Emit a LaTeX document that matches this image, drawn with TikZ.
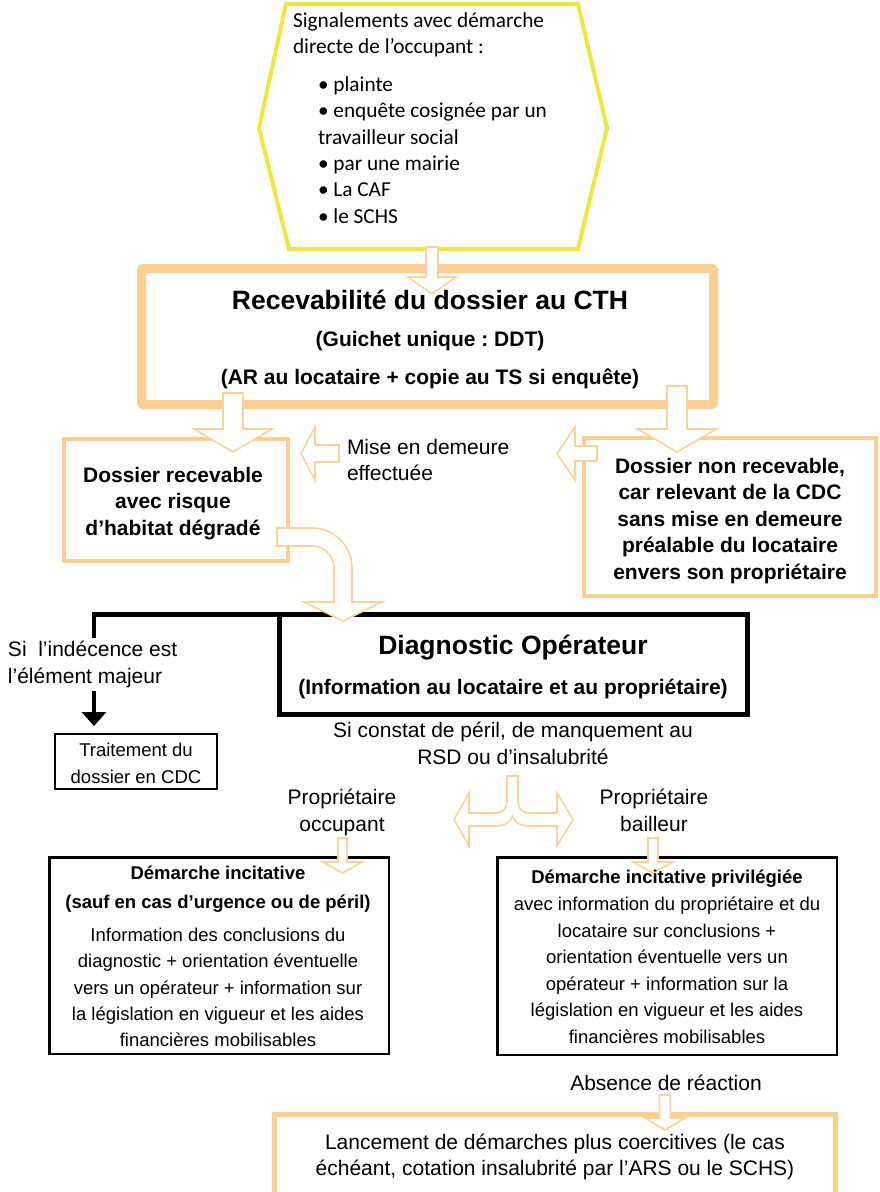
\documentclass[tikz,border=0pt]{standalone}
\usepackage{fontspec}
\setmainfont{Liberation Sans}
\newfontfamily\calibfont{Carlito}
\usetikzlibrary{arrows.meta}
\frenchspacing

\definecolor{hexyellow}{RGB}{242,229,66}
\definecolor{peach}{RGB}{251,207,146}
\definecolor{peacharrow}{RGB}{250,210,155}

% hollow block arrow pointing down: centre x, half shaft, top, head base, half head, tip y
\newcommand\blockdown[6]{%
  \draw[blockarrow] ({#1-#2},#3) -- ({#1+#2},#3) -- ({#1+#2},#4) -- ({#1+#5},#4)
    -- (#1,#6) -- ({#1-#5},#4) -- ({#1-#2},#4) -- cycle;}
% hollow block arrow pointing left: tip x, centre y, head back x, half head, half shaft, tail x
\newcommand\blockleft[6]{%
  \draw[blockarrow] (#6,{#2-#5}) -- (#3,{#2-#5}) -- (#3,{#2-#4}) -- (#1,#2)
    -- (#3,{#2+#4}) -- (#3,{#2+#5}) -- (#6,{#2+#5}) -- cycle;}

\begin{document}
\begin{tikzpicture}[x=1pt,y=-1pt,
  every node/.style={inner sep=0pt,outer sep=0pt},
  txt/.style={font=\fontsize{21}{26.5}\selectfont,align=center},
  txtb/.style={font=\bfseries\fontsize{21}{26.5}\selectfont,align=center},
  boxtxt/.style={font=\fontsize{18.5}{26.6}\selectfont,align=center},
  peachframe/.style={draw=peach,fill=white},
  blackframe/.style={draw=black,fill=white},
  blockarrow/.style={draw=peacharrow,fill=white,line width=1.6pt,line join=miter},
]
\useasboundingbox (0,0) rectangle (880,1192);

% reports hexagon
\draw[hexyellow,line width=4pt,line join=miter]
  (286,4) -- (578,4) -- (607,128) -- (578,249) -- (289,249) -- (259,128) -- cycle;

% admissibility frame
\node[peachframe,line width=9pt,rounded corners=2pt,minimum width=572pt,minimum height=136pt]
  (cth) at (427.5,336.5) {};

% outcome frames
\node[peachframe,line width=4pt,minimum width=224pt,minimum height=122pt] (recv) at (176,500) {};
\node[peachframe,line width=4pt,minimum width=292pt,minimum height=158pt] (nonrecv) at (730,517) {};

% operator diagnosis and indecency branch
\node[blackframe,line width=2pt,minimum width=162pt,minimum height=55pt] (trait) at (136,761.5) {};
\draw[line width=4.5pt,line join=miter,-{Triangle[width=24pt,length=14pt]}]
  (279.5,614.5) -| ([xshift=39pt,yshift=8pt]trait.north west);
\node[blackframe,line width=5pt,minimum width=468pt,minimum height=100pt] (diag) at (513.5,664.5) {};

% incentive procedures
\node[blackframe,line width=2.5pt,minimum width=339.5pt,minimum height=196.5pt] (democc) at (219,955.5) {};
\node[blackframe,line width=2.5pt,minimum width=339.5pt,minimum height=197.5pt] (dembail) at (667,956) {};

% coercive procedures
\node[peachframe,line width=5pt,minimum width=561pt,minimum height=120pt,anchor=north]
  (final) at (555,1114.5) {};

% block arrows
\blockdown{432}{6}{247}{277}{24}{294}
\blockdown{233}{10}{393}{429}{39}{452}
\blockdown{677}{10}{386}{429}{39.5}{452}
\blockleft{301}{453.5}{315}{26.5}{8.5}{339}
\blockleft{557}{453.5}{575}{26.5}{7.5}{597}

% bent arrow towards the diagnosis
\draw[blockarrow]
  (277,528) -- (312,528) .. controls (334.1,528) and (352,545.9) .. (352,568)
  -- (352,602) -- (382,602) -- (343,621) -- (304,602) -- (334,602) -- (334,568)
  .. controls (334,555.8) and (324.2,546) .. (312,546) -- (277,546) -- cycle;

% two-way split arrow
\draw[blockarrow]
  (507,776) -- (518,776) -- (518,800) .. controls (518,809) and (522,813) .. (530,813)
  -- (557,813) -- (557,793) -- (573,819.5) -- (557,846) -- (557,826) -- (530,826)
  .. controls (520,826) and (514,822) .. (512.5,816)
  .. controls (511,822) and (505,826) .. (495,826)
  -- (469,826) -- (469,846) -- (454,819.5) -- (469,793) -- (469,813) -- (495,813)
  .. controls (503,813) and (507,809) .. (507,800) -- cycle;

\blockdown{342.5}{4.5}{838}{862}{19.5}{873}
\blockdown{653}{5}{838}{862}{20}{873}
\blockdown{665}{5.5}{1095}{1118}{20}{1130}

% texts
\node[anchor=west,align=left,font=\calibfont\fontsize{21.3}{26.5}\selectfont] (sigtitle) at (293,35)
  {Signalements avec démarche\\directe de l’occupant :};
\node[anchor=west,align=left,font=\calibfont\fontsize{21.3}{26.3}\selectfont] (siglist) at (318,150)
  {• plainte\\• enquête cosignée par un\\travailleur social\\• par une mairie\\• La CAF\\• le SCHS};

\node[font=\bfseries\fontsize{26.5}{30}\selectfont] (cthtitle) at (430,300) {Recevabilité du dossier au CTH};
\node[align=center,font=\bfseries\fontsize{21}{38}\selectfont] (cthsub) at (430,360)
  {(Guichet unique : DDT)\\(AR au locataire + copie au TS si enquête)};

\node[txtb] (recvtxt) at (173,503.5) {Dossier recevable\\avec risque\\d’habitat dégradé};
\node[txt,anchor=west,align=left] (mise) at (347,460) {Mise en demeure\\effectuée};
\node[txtb] (nonrecvtxt) at (730,521)
  {Dossier non recevable,\\car relevant de la CDC\\sans mise en demeure\\préalable du locataire\\envers son propriétaire};

\node[font=\bfseries\fontsize{26.5}{30}\selectfont] (diagtitle) at (513,647.5) {Diagnostic Opérateur};
\node[txtb] (diagsub) at (513,689) {(Information au locataire et au propriétaire)};

\node[txt,anchor=west,align=left,fill=white,inner ysep=3pt] (indec) at (8,664.5)
  {Si\ \ l’indécence est\\l’élément majeur};
\node[boxtxt,font=\fontsize{18.5}{27}\selectfont] (traittxt) at (136,763.5) {Traitement du\\dossier en CDC};

\node[txt] (constat) at (513,743.5) {Si constat de péril, de manquement au\\RSD ou d’insalubrité};
\node[txt] (propocc) at (342,812.5) {Propriétaire\\occupant};
\node[txt] (propbail) at (654,810.5) {Propriétaire\\bailleur};

\node[align=center,font=\bfseries\fontsize{18.5}{29}\selectfont] (democchead) at (218,889.5)
  {Démarche incitative\\(sauf en cas d’urgence ou de péril)};
\node[boxtxt,font=\fontsize{18.5}{26.25}\selectfont] (democcbody) at (218,987.5)
  {Information des conclusions du\\diagnostic + orientation éventuelle\\vers un opérateur + information sur\\la législation en vigueur et les aides\\financières mobilisables};
\node[boxtxt] (dembailtxt) at (667,957)
  {\textbf{Démarche incitative privilégiée}\\avec information du propriétaire et du\\locataire sur conclusions +\\orientation éventuelle vers un\\opérateur + information sur la\\législation en vigueur et les aides\\financières mobilisables};

\node[txt] (absence) at (666,1083) {Absence de réaction};
\node[txt] (finaltxt) at (555,1157)
  {Lancement de démarches plus coercitives (le cas\\échéant, cotation insalubrité par l’ARS ou le SCHS)};
\end{tikzpicture}
\end{document}
